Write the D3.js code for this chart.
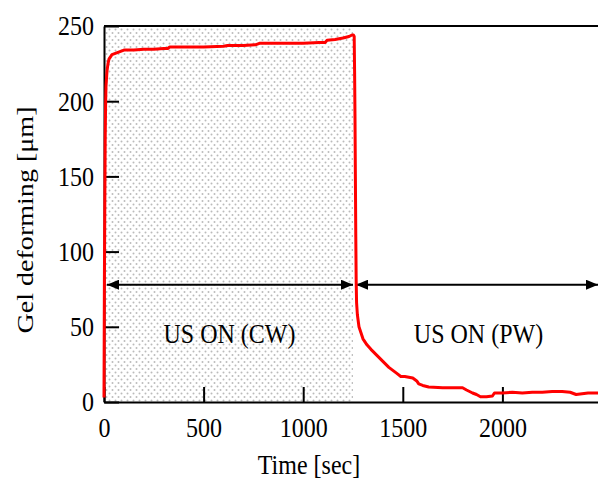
<!DOCTYPE html>
<html>
<head>
<meta charset="utf-8">
<script src="https://cdn.jsdelivr.net/npm/d3@7"></script>
<style>
  body { margin: 0; background: #fff; }
  svg text { font-family: "Liberation Serif", "Times New Roman", "DejaVu Serif", serif; fill: #000; }
</style>
</head>
<body>
<svg id="chart" width="598" height="479"></svg>
<script>
// time [sec] and gel deforming [um]
const times = [0, 1, 2, 4, 6, 8, 10, 15, 20, 25, 40, 60, 80, 100, 150, 200, 250, 300, 320, 330, 400, 500, 600, 620,
  700, 760, 780, 900, 1000, 1080, 1110, 1120, 1160, 1200, 1230, 1245, 1252, 1256, 1258, 1260, 1262, 1264, 1266,
  1268, 1272, 1276, 1280, 1290, 1300, 1320, 1340, 1370, 1400, 1430, 1450, 1470, 1490, 1510, 1530, 1550, 1570,
  1580, 1600, 1630, 1700, 1750, 1800, 1820, 1850, 1870, 1890, 1920, 1950, 1960, 2000, 2050, 2100, 2150, 2200,
  2250, 2300, 2340, 2370, 2400, 2430, 2480];
const values = [3, 40, 80, 130, 175, 198, 210, 220, 225, 228, 231, 232, 233, 234, 234, 234.5, 234.5, 235, 235, 236, 236, 236, 236.5, 237,
  237, 237.5, 238.5, 238.5, 238.5, 239, 239, 240.5, 241, 242, 243, 244, 244, 243, 220, 190, 150, 110, 80,
  66, 58, 54, 50, 46, 42, 38, 35, 31, 27, 23, 21, 19, 17, 17, 16.5, 16, 14,
  12, 11, 10, 9.5, 9.5, 9.5, 8, 6, 5, 3.5, 3.5, 4, 6, 6, 6.5, 6, 6.5, 6.5,
  7, 7, 6.5, 5, 5.5, 6, 6];

const xTicks = [0, 500, 1000, 1500, 2000];
const yTicks = [0, 50, 100, 150, 200, 250];
const cwEnd = 1250;          // end of the continuous wave period
const arrowLevel = 78;
const labels = [{text: "US ON (CW)", t: 630}, {text: "US ON (PW)", t: 1880}];

const svg = d3.select("#chart");
const margin = {left: 104, top: 26, bottom: 77};
const W = 598, H = 479;
const fs = 24, sy = 1.17;   // text is a little taller than wide in the original

const x = d3.scaleLinear().domain([0, 2500]).range([margin.left, 602]);
const y = d3.scaleLinear().domain([0, 250]).range([H - margin.bottom, margin.top]);

// dotted fill for the CW period
const defs = svg.append("defs");
const pat = defs.append("pattern").attr("id", "dots")
  .attr("patternUnits", "userSpaceOnUse").attr("width", 6).attr("height", 7);
pat.append("circle").attr("cx", 1.5).attr("cy", 1.5).attr("r", 1).attr("fill", "#bbb");
pat.append("circle").attr("cx", 4.5).attr("cy", 5).attr("r", 1).attr("fill", "#bbb");

const arrow = defs.append("marker").attr("id", "head")
  .attr("viewBox", "0 0 12 10").attr("refX", 12).attr("refY", 5)
  .attr("markerWidth", 12).attr("markerHeight", 10).attr("markerUnits", "userSpaceOnUse")
  .attr("orient", "auto-start-reverse");
arrow.append("path").attr("d", "M0,0L12,5L0,10Z").attr("fill", "#000");

svg.append("rect")
  .attr("x", x(0)).attr("y", y(250))
  .attr("width", x(cwEnd) - x(0)).attr("height", y(0) - y(250))
  .attr("fill", "url(#dots)");

// frame: top line and axes
svg.append("line").attr("x1", x(0)).attr("x2", W).attr("y1", y(250)).attr("y2", y(250))
  .attr("stroke", "#000").attr("stroke-width", 2);

const xAxis = svg.append("g").attr("transform", `translate(0,${y(0)})`)
  .call(d3.axisBottom(x).tickValues(xTicks).tickFormat(d3.format("d"))
    .tickSizeInner(-15).tickSizeOuter(0).tickPadding(13));
const yAxis = svg.append("g").attr("transform", `translate(${x(0)},0)`)
  .call(d3.axisLeft(y).tickValues(yTicks).tickFormat(d3.format("d"))
    .tickSizeInner(-15).tickSizeOuter(0).tickPadding(10));
[xAxis, yAxis].forEach(g => {
  g.attr("font-family", null).attr("font-size", null);
  g.select(".domain").attr("stroke-width", 2);
  g.selectAll(".tick line").attr("stroke-width", 2);
  g.selectAll("text").attr("font-size", fs).attr("transform", `scale(1,${sy})`);
});

// arrows
svg.append("line").attr("x1", x(15)).attr("x2", x(cwEnd)).attr("y1", y(arrowLevel)).attr("y2", y(arrowLevel))
  .attr("stroke", "#000").attr("stroke-width", 2)
  .attr("marker-start", "url(#head)").attr("marker-end", "url(#head)");
svg.append("line").attr("x1", x(cwEnd + 15)).attr("x2", x(2480)).attr("y1", y(arrowLevel)).attr("y2", y(arrowLevel))
  .attr("stroke", "#000").attr("stroke-width", 2)
  .attr("marker-start", "url(#head)").attr("marker-end", "url(#head)");

svg.selectAll(".lab").data(labels).join("text")
  .attr("transform", d => `translate(${x(d.t)},343) scale(1,${sy})`)
  .attr("text-anchor", "middle").attr("font-size", fs)
  .text(d => d.text);

// data curve
const pts = times.map((t, i) => [t, values[i]]);
svg.append("path").datum(pts)
  .attr("fill", "none").attr("stroke", "#ff0000").attr("stroke-width", 3)
  .attr("stroke-linejoin", "round")
  .attr("d", d3.line().x(d => x(d[0])).y(d => y(d[1])));

// axis titles
svg.append("text").attr("transform", `translate(309,474) scale(1,${sy})`)
  .attr("text-anchor", "middle").attr("font-size", fs).text("Time [sec]");
svg.append("text").attr("transform", `translate(33,220) scale(1,${sy}) rotate(-90)`)
  .attr("text-anchor", "middle").attr("font-size", fs).text("Gel deforming [μm]");
</script>
</body>
</html>
